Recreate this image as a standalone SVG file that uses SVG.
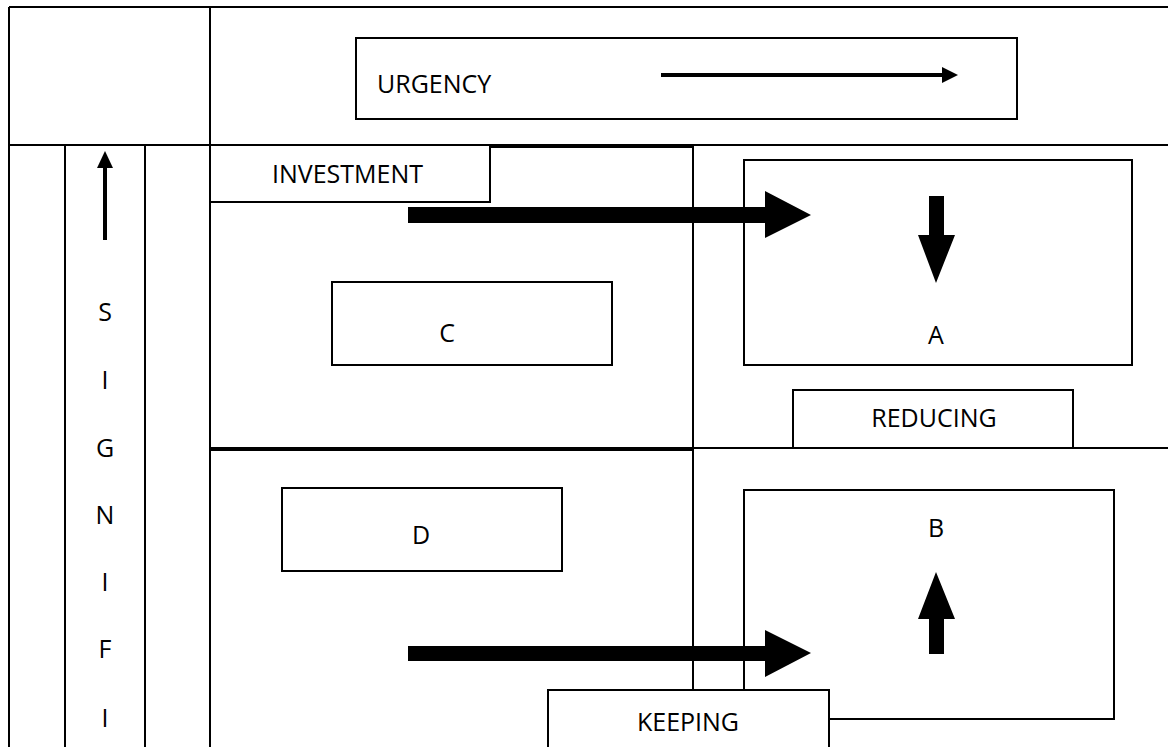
<svg xmlns="http://www.w3.org/2000/svg" width="1168" height="747" viewBox="0 0 1168 747">
<defs>
<style>
.ln{stroke:#000;stroke-width:2;fill:none}
.bx{stroke:#000;stroke-width:2;fill:#fff}
.bo{stroke:#000;stroke-width:2;fill:none}
.t{font-family:"Open Sans","Noto Sans",sans-serif;font-size:25px;fill:#000}
.m{text-anchor:middle}
.ar{fill:#000;stroke:none}
</style>
</defs>
<rect width="1168" height="747" fill="#fff"/>
<g id="table">
<line class="ln" x1="9" y1="7" x2="1168" y2="7"/>
<line class="ln" x1="9" y1="7" x2="9" y2="747"/>
<line class="ln" x1="210" y1="7" x2="210" y2="747"/>
<line class="ln" x1="9" y1="145" x2="1168" y2="145"/>
<line class="ln" x1="65" y1="145" x2="65" y2="747"/>
<line class="ln" x1="145" y1="145" x2="145" y2="747"/>
<line class="ln" x1="693" y1="145" x2="693" y2="747"/>
<line class="ln" x1="693" y1="448" x2="1168" y2="448"/>
<rect class="bo" x="210" y="147" width="483" height="301"/>
<rect class="bo" x="210" y="450" width="483" height="310"/>
</g>
<g id="significance">
<text class="t m" x="105" y="321">S</text>
<text class="t m" x="105" y="389">I</text>
<text class="t m" x="105" y="457">G</text>
<text class="t m" x="105" y="524">N</text>
<text class="t m" x="105" y="591">I</text>
<text class="t m" x="105" y="658">F</text>
<text class="t m" x="105" y="727">I</text>
</g>
<g id="urgency">
<rect class="bx" x="356" y="38" width="661" height="81"/>
<text class="t" x="377" y="93">URGENCY</text>
</g>
<g id="investment">
<rect class="bx" x="210" y="145" width="280" height="57"/>
<text class="t" x="272" y="183">INVESTMENT</text>
</g>
<g id="nodeC">
<rect class="bx" x="332" y="282" width="280" height="83"/>
<text class="t m" x="447" y="342">C</text>
</g>
<g id="nodeA">
<rect class="bx" x="744" y="160" width="388" height="205"/>
<text class="t m" x="936" y="344">A</text>
</g>
<g id="reducing">
<rect class="bx" x="793" y="390" width="280" height="58"/>
<text class="t m" x="934" y="427">REDUCING</text>
</g>
<g id="nodeD">
<rect class="bx" x="282" y="488" width="280" height="83"/>
<text class="t m" x="421" y="544">D</text>
</g>
<g id="nodeB">
<rect class="bx" x="744" y="490" width="370" height="229"/>
<text class="t m" x="936" y="537">B</text>
</g>
<g id="connectors">
<line x1="105" y1="240" x2="105" y2="165" stroke="#000" stroke-width="4"/>
<polygon class="ar" points="105,151 113,168 97,168"/>
<line x1="661" y1="75" x2="945" y2="75" stroke="#000" stroke-width="4"/>
<polygon class="ar" points="958,75 942,67 942,83"/>
<polygon class="ar" points="408,207 765,207 765,191 811,215 765,238 765,223 408,223"/>
<polygon class="ar" points="408,646 765,646 765,630 811,653 765,677 765,661 408,661"/>
<polygon class="ar" points="929,196 944,196 944,235 955,235 936,283 918,235 929,235"/>
<polygon class="ar" points="936,572 955,619 944,619 944,654 929,654 929,619 918,619"/>
</g>
<g id="keeping">
<rect class="bx" x="548" y="690" width="281" height="70"/>
<text class="t m" x="688" y="731">KEEPING</text>
</g>
</svg>
